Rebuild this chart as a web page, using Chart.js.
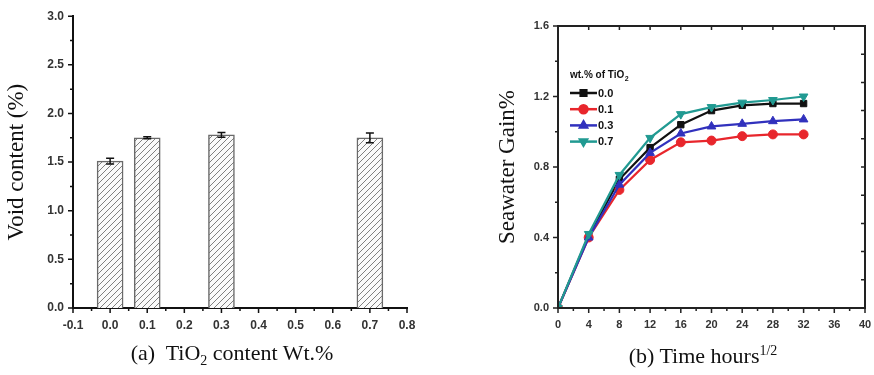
<!DOCTYPE html>
<html>
<head>
<meta charset="utf-8">
<script src="https://cdn.jsdelivr.net/npm/chart.js@4.4.0/dist/chart.umd.min.js"></script>
<style>
  html, body { margin: 0; padding: 0; background: #fff; }
  #wrap { position: relative; width: 874px; height: 375px; overflow: hidden; }
  canvas { position: absolute; top: 0; }
  .xt { position: absolute; font-family: "Liberation Serif", "Times New Roman", serif; font-size: 22px; line-height: 1; color: #111; text-align: center; white-space: nowrap; }
  .xt sub, .xt sup { font-size: 14px; line-height: 0; }
</style>
</head>
<body>
<div id="wrap">
  <canvas id="voidChart" width="440" height="375" style="left:0"></canvas>
  <canvas id="gainChart" width="434" height="375" style="left:440px"></canvas>
  <div class="xt" style="left:0; width:464px; top:342px">(a)&nbsp; TiO<sub>2</sub> content Wt.%</div>
  <div class="xt" style="left:603px; width:200px; top:345px">(b) Time hours<sup>1/2</sup></div>
</div>
<script>
// --- data: panel (a) void content ---
const tio2Content = [0.0, 0.1, 0.3, 0.7];
const voidContent = [1.51, 1.75, 1.78, 1.75];
const voidError = [0.03, 0.01, 0.025, 0.05];

// --- data: panel (b) seawater gain ---
const timeHours = [0, 4, 8, 12, 16, 20, 24, 28, 32];
const gainLabels = ['0.0', '0.1', '0.3', '0.7'];
const gain00 = [0, 0.41, 0.73, 0.91, 1.04, 1.12, 1.15, 1.16, 1.16];
const gain01 = [0, 0.40, 0.67, 0.84, 0.94, 0.95, 0.975, 0.985, 0.985];
const gain03 = [0, 0.40, 0.70, 0.88, 0.99, 1.03, 1.045, 1.06, 1.07];
const gain07 = [0, 0.42, 0.755, 0.965, 1.10, 1.14, 1.165, 1.18, 1.20];

const tickFont = { family: '"Liberation Sans", Arial, sans-serif', weight: 'bold' };
const serif = '"Liberation Serif", "Times New Roman", serif';

const range = (a, b, s) => {
    const out = [];
    for (let v = a; v <= b + s / 1000; v += s) out.push(Math.round(v * 1000) / 1000);
    return out;
};

// hatch pattern for the bars
const hatch = (() => {
    const c = document.createElement('canvas');
    c.width = 6; c.height = 6;
    const g = c.getContext('2d');
    g.fillStyle = '#fafafa';
    g.fillRect(0, 0, 6, 6);
    g.strokeStyle = '#808080';
    g.lineWidth = 1;
    g.beginPath();
    g.moveTo(0, 6); g.lineTo(6, 0);
    g.moveTo(-1, 1); g.lineTo(1, -1);
    g.moveTo(5, 7); g.lineTo(7, 5);
    g.stroke();
    return g.createPattern(c, 'repeat');
})();

// draws major / minor tick marks on the chart area edges
const tickMarks = {
    id: 'tickMarks',
    afterDraw(chart, args, opts) {
        const { ctx, chartArea: a } = chart;
        ctx.save();
        ctx.strokeStyle = opts.color || '#111';
        ctx.lineWidth = 1.5;
        if (opts.frame) {
            ctx.lineWidth = 2;
            ctx.strokeRect(a.left, a.top, a.right - a.left, a.bottom - a.top);
            ctx.lineWidth = 1.5;
        }
        for (const m of opts.marks) {
            const s = chart.scales[m.axis];
            ctx.beginPath();
            for (const v of m.values) {
                const p = s.getPixelForValue(v);
                if (m.axis === 'x') {
                    const y = m.side === 'top' ? a.top : a.bottom;
                    ctx.moveTo(p, y); ctx.lineTo(p, y + m.len);
                } else {
                    const x = m.side === 'right' ? a.right : a.left;
                    ctx.moveTo(x, p); ctx.lineTo(x + m.len, p);
                }
            }
            ctx.stroke();
        }
        ctx.restore();
    }
};

// error bars for panel (a)
const errorBars = {
    id: 'errorBars',
    afterDatasetsDraw(chart) {
        const { ctx, scales: { x, y } } = chart;
        ctx.save();
        ctx.strokeStyle = '#111';
        ctx.lineWidth = 1.5;
        tio2Content.forEach((c, i) => {
            const px = x.getPixelForValue(c);
            const hi = y.getPixelForValue(voidContent[i] + voidError[i]);
            const lo = y.getPixelForValue(voidContent[i] - voidError[i]);
            ctx.beginPath();
            ctx.moveTo(px, hi); ctx.lineTo(px, lo);
            ctx.moveTo(px - 4, hi); ctx.lineTo(px + 4, hi);
            ctx.moveTo(px - 4, lo); ctx.lineTo(px + 4, lo);
            ctx.stroke();
        });
        ctx.restore();
    }
};

// legend drawn inside the plot of panel (b)
const innerLegend = {
    id: 'innerLegend',
    afterDraw(chart, args, opts) {
        const ctx = chart.ctx;
        ctx.save();
        ctx.fillStyle = '#111';
        ctx.textBaseline = 'middle';
        ctx.font = 'bold 10px "Liberation Sans", Arial, sans-serif';
        ctx.fillText('wt.% of TiO', opts.x, opts.y);
        const w = ctx.measureText('wt.% of TiO').width;
        ctx.font = 'bold 7px "Liberation Sans", Arial, sans-serif';
        ctx.fillText('2', opts.x + w + 0.5, opts.y + 4);
        chart.data.datasets.forEach((ds, i) => {
            const y = opts.y + 18 + i * 16.2;
            ctx.strokeStyle = ds.borderColor;
            ctx.fillStyle = ds.borderColor;
            ctx.lineWidth = 2.5;
            ctx.beginPath();
            ctx.moveTo(opts.x, y); ctx.lineTo(opts.x + 27, y);
            ctx.stroke();
            Chart.helpers.drawPoint(ctx, {
                pointStyle: ds.pointStyle, radius: 4, rotation: ds.pointRotation || 0, borderWidth: 1
            }, opts.x + 13.5, y);
            ctx.fillStyle = '#111';
            ctx.font = 'bold 11px "Liberation Sans", Arial, sans-serif';
            ctx.fillText(ds.label, opts.x + 28, y + 0.5);
        });
        ctx.restore();
    }
};

// --- panel (a) ---
new Chart(document.getElementById('voidChart'), {
    type: 'bar',
    data: {
        datasets: [{
            data: tio2Content.map((c, i) => ({ x: c, y: voidContent[i] })),
            backgroundColor: hatch,
            borderColor: '#6a6a6a',
            borderWidth: 1.5,
            barThickness: 26
        }]
    },
    options: {
        responsive: false,
        animation: false,
        devicePixelRatio: 1,
        layout: { padding: { left: 0, top: 16, right: 33, bottom: 37 } },
        plugins: {
            legend: { display: false },
            tooltip: { enabled: false },
            tickMarks: {
                marks: [
                    { axis: 'x', side: 'bottom', values: range(-0.1, 0.8, 0.1), len: 5 },
                    { axis: 'x', side: 'bottom', values: range(-0.05, 0.75, 0.1), len: 3 },
                    { axis: 'y', side: 'left', values: range(0, 3, 0.5), len: -5 },
                    { axis: 'y', side: 'left', values: range(0.25, 2.75, 0.5), len: -3 }
                ]
            }
        },
        scales: {
            x: {
                type: 'linear', min: -0.1, max: 0.8, offset: false,
                grid: { display: false, drawTicks: false },
                border: { display: true, color: '#111', width: 2 },
                ticks: {
                    stepSize: 0.1, padding: 10, color: '#333',
                    font: { ...tickFont, size: 12 },
                    callback: v => (Math.round(v * 10) / 10).toFixed(1)
                },
                afterFit: s => { s.height = 30; }
            },
            y: {
                min: 0, max: 3,
                grid: { display: false, drawTicks: false },
                border: { display: true, color: '#111', width: 2 },
                ticks: {
                    stepSize: 0.5, padding: 9, color: '#333',
                    font: { ...tickFont, size: 12 },
                    callback: v => v.toFixed(1)
                },
                title: {
                    display: true, text: 'Void content (%)', color: '#111',
                    font: { family: serif, size: 23, weight: 'normal' },
                    padding: { top: 3, bottom: 0 }
                },
                afterFit: s => { s.width = 73; }
            }
        }
    },
    plugins: [tickMarks, errorBars]
});

// --- panel (b) ---
const lineSet = (label, data, color, style, size, rot, order) => ({
    label, data: timeHours.map((t, i) => ({ x: t, y: data[i] })),
    borderColor: color, backgroundColor: color,
    pointStyle: style, pointRadius: size, pointRotation: rot,
    pointBorderWidth: 1, borderWidth: 2.2, order
});

new Chart(document.getElementById('gainChart'), {
    type: 'line',
    data: {
        datasets: [
            lineSet(gainLabels[0], gain00, '#111111', 'rect', 4.5, 0, 4),
            lineSet(gainLabels[1], gain01, '#e8262c', 'circle', 4.5, 0, 3),
            lineSet(gainLabels[2], gain03, '#3131bd', 'triangle', 5, 0, 2),
            lineSet(gainLabels[3], gain07, '#219a92', 'triangle', 5, 180, 1)
        ]
    },
    options: {
        responsive: false,
        animation: false,
        devicePixelRatio: 1,
        layout: { padding: { left: 0, top: 26, right: 9, bottom: 37 } },
        plugins: {
            legend: { display: false },
            tooltip: { enabled: false },
            innerLegend: { x: 130, y: 75 },
            tickMarks: {
                frame: true,
                color: '#222',
                marks: [
                    { axis: 'x', side: 'bottom', values: range(0, 40, 4), len: 5 },
                    { axis: 'x', side: 'bottom', values: range(2, 38, 4), len: 3 },
                    { axis: 'x', side: 'top', values: range(4, 36, 4), len: 4 },
                    { axis: 'y', side: 'left', values: range(0, 1.6, 0.4), len: -5 },
                    { axis: 'y', side: 'left', values: range(0.2, 1.4, 0.4), len: -3 },
                    { axis: 'y', side: 'right', values: range(0.16, 1.44, 0.16), len: -4 }
                ]
            }
        },
        scales: {
            x: {
                type: 'linear', min: 0, max: 40,
                grid: { display: false, drawTicks: false },
                border: { display: false },
                ticks: {
                    stepSize: 4, padding: 10, color: '#333',
                    font: { ...tickFont, size: 11 }
                },
                afterFit: s => { s.height = 30; s.paddingRight = 0; s.paddingLeft = 0; }
            },
            y: {
                min: 0, max: 1.6,
                grid: { display: false, drawTicks: false },
                border: { display: false },
                ticks: {
                    stepSize: 0.4, padding: 9, color: '#333',
                    font: { ...tickFont, size: 11 },
                    callback: v => v.toFixed(1)
                },
                title: {
                    display: true, text: 'Seawater Gain%', color: '#111',
                    font: { family: serif, size: 23, weight: 'normal' },
                    padding: { top: 54, bottom: 0 }
                },
                afterFit: s => { s.width = 118; }
            }
        }
    },
    plugins: [tickMarks, innerLegend]
});
</script>
</body>
</html>
